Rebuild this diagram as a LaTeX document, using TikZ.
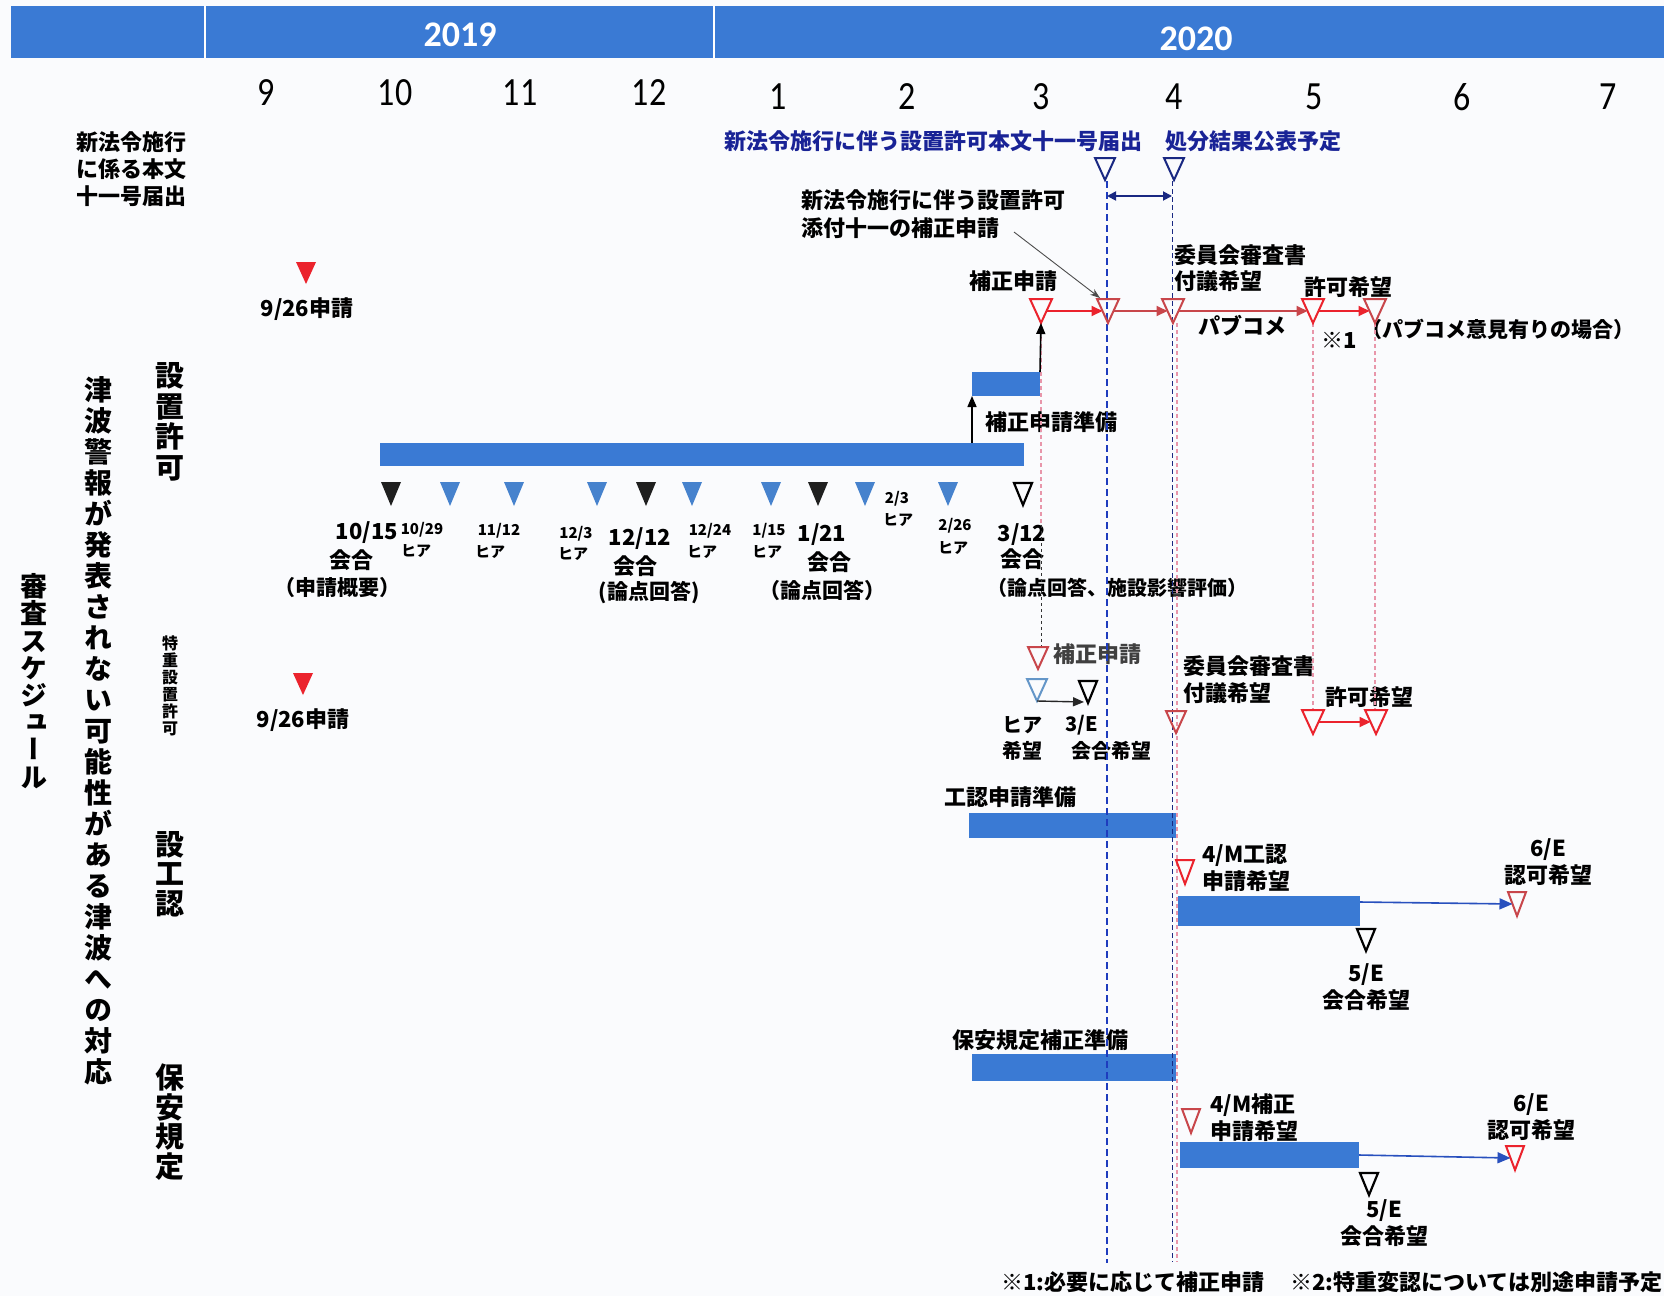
\documentclass[tikz,border=0pt]{standalone}
\usepackage{fontspec}
\usepackage{graphicx}
\setmainfont{Noto Sans CJK JP}
\newfontfamily\vfnt[RawFeature=+vert]{Noto Sans CJK JP}
\newfontfamily\calfnt{Carlito}
\usetikzlibrary{arrows.meta,calc}
\definecolor{bgc}{RGB}{250,251,253}
\definecolor{barblue}{RGB}{58,122,212}
\definecolor{navy}{RGB}{25,40,130}
\definecolor{navytxt}{RGB}{25,35,150}
\definecolor{dashblue}{RGB}{30,60,190}
\definecolor{pinkd}{RGB}{232,150,170}
\definecolor{myred}{RGB}{235,35,45}
\definecolor{dullred}{RGB}{200,70,75}
\definecolor{mkblue}{RGB}{70,130,205}
\definecolor{ltblue}{RGB}{100,150,200}
\definecolor{arrblue}{RGB}{40,80,190}
\newcommand\fs[2]{\fontsize{#1}{#2}\selectfont\bfseries}
\newcommand\tri[6][]{%
  \coordinate (#2) at (#3,#4);
  \coordinate (#2-t) at ($(#2)+(0,-#6)$);
  \coordinate (#2-b) at ($(#2)+(0,#6)$);
  \coordinate (#2-w) at ($(#2)+(-#5/2,0)$);
  \coordinate (#2-e) at ($(#2)+(#5/2,0)$);
  \path[#1] ($(#2)+(-#5,-#6)$) -- ($(#2)+(#5,-#6)$) -- (#2-b) -- cycle;
}
\tikzset{
  lbl/.style={inner sep=0pt, font=\fs{22}{27}, align=center},
  lblL/.style={inner sep=0pt, font=\fs{22}{27}, align=left, anchor=west},
  sm/.style={inner sep=0pt, font=\fs{15}{20}, align=center},
  vt/.style={inner sep=0pt, align=center},
  mon/.style={inner sep=0pt, font=\calfnt\fontsize{40}{40}\selectfont},
  yr/.style={inner sep=0pt, font=\calfnt\fs{36}{36}, text=white},
  bar/.style={fill=barblue},
  redopen/.style={draw=myred, line width=2pt, line join=miter},
  dredopen/.style={draw=dullred, line width=2pt, line join=miter},
  navyopen/.style={draw=navy, line width=2pt, line join=miter},
  blkopen/.style={draw=black, line width=2.2pt, line join=miter},
  blueopen/.style={draw=ltblue, line width=2pt, line join=miter},
  blkfill/.style={fill=black!88},
  bluefill/.style={fill=mkblue},
  redfill/.style={fill=myred},
  redarr/.style={draw=myred, line width=1.8pt, -{Triangle[length=11pt,width=10pt]}},
  dredarr/.style={draw=dullred, line width=1.8pt, -{Triangle[length=11pt,width=10pt]}},
  blkup/.style={draw=black, line width=1.6pt, -{Triangle[length=11pt,width=9pt]}},
  bluearr/.style={draw=arrblue, line width=1.6pt, -{Triangle[length=13pt,width=11pt]}},
  navyboth/.style={draw=navy, line width=1.8pt, {Triangle[length=9pt,width=9pt]}-{Triangle[length=9pt,width=9pt]}},
  callout/.style={draw=black!70, line width=0.9pt, -{Stealth[length=10pt,width=7pt]}},
  blkarr/.style={draw=black!85, line width=1.4pt, -{Triangle[length=11pt,width=9pt]}},
  bluedash/.style={draw=dashblue, line width=2pt, dash pattern=on 7pt off 4pt},
  navydash/.style={draw=navy, line width=1pt, dash pattern=on 5pt off 3pt},
  pinkdash/.style={draw=pinkd, line width=1.3pt, dash pattern=on 4pt off 3pt},
  blkdash/.style={draw=black!80, line width=1pt, dash pattern=on 3pt off 3pt},
}
\begin{document}
\begin{tikzpicture}[x=1pt,y=-1pt]
\useasboundingbox (0,0) rectangle (1664,1296);
\fill[bgc] (0,0) rectangle (1664,1296);
% ---------- header ----------
\fill[barblue] (11,6) rectangle (1664,58);
\draw[white, line width=2.5pt] (205,6) -- (205,58);
\draw[white, line width=2.5pt] (714,6) -- (714,58);
\node[yr] (y19) at (460,35) {2019};
\node[yr] (y20) at (1196,39) {2020};
\foreach \m/\x/\y in {9/266/93, 10/395/93, 11/520/93, 12/649/93, 1/778/97, 2/907/97, 3/1041/97, 4/1174/97, 5/1314/97, 6/1462/97, 7/1608/97}
  \node[mon] (m\m) at (\x,\y) {\scalebox{0.85}[1]{\m}};
% ---------- left labels ----------
\node[lbl, align=left] (ltop) at (131,169) {新法令施行\\に係る本文\\十一号届出};
\node[vt, font=\vfnt\fs{29}{30.5}] (vsk) at (170,422) {設\\置\\許\\可};
\node[vt, font=\vfnt\fs{28}{31}] (vtn) at (98,731) {津\\波\\警\\報\\が\\発\\表\\さ\\れ\\な\\い\\可\\能\\性\\が\\あ\\る\\津\\波\\へ\\の\\対\\応};
\node[vt, font=\vfnt\fs{27}{27.2}] (vss) at (34,681) {審\\査\\ス\\ケ\\ジ\\ュ\\ー\\ル};
\node[vt, font=\vfnt\fs{16}{17}] (vtj) at (170,686) {特\\重\\設\\置\\許\\可};
\node[vt, font=\vfnt\fs{29}{29.5}] (vsn) at (170,874) {設\\工\\認};
\node[vt, font=\vfnt\fs{29}{29.5}] (vhk) at (170,1122) {保\\安\\規\\定};
% ---------- bars ----------
\fill[bar] (380,443) rectangle (1024,466);
\fill[bar] (972,372) rectangle (1040,396);
\fill[bar] (969,813) rectangle (1176,838);
\fill[bar] (1178,896) rectangle (1360,926);
\fill[bar] (972,1054) rectangle (1176,1081);
\fill[bar] (1180,1142) rectangle (1359,1168);
\coordinate (b2top) at (1040,372);
\coordinate (b1top) at (972,443);
\coordinate (b2bot) at (972,396);
\coordinate (b4r) at (1360,902);
\coordinate (b6r) at (1359,1155);
% ---------- texts: top row ----------
\node[lblL, text=navytxt] (tb1) at (724,141) {新法令施行に伴う設置許可本文十一号届出};
\node[lblL, text=navytxt] (tb2) at (1165,141) {処分結果公表予定};
% ---------- texts: 設置許可 ----------
\node[lbl] (t926a) at (307,309) {9/26申請};
\node[lbl] (thos1) at (1013,281) {補正申請};
\node[lblL, font=\fs{22}{28}] (tnew) at (801,214) {新法令施行に伴う設置許可\\添付十一の補正申請};
\node[lblL, font=\fs{22}{26}] (tiin1) at (1174,268) {委員会審査書\\付議希望};
\node[lbl] (tkyo1) at (1348,287) {許可希望};
\node[lbl] (tpub) at (1242,326) {パブコメ};
\node[lbl] (tk1) at (1339,340) {※1};
\node[lbl, font=\fs{21}{26}] (tpubo) at (1498,329) {（パブコメ意見有りの場合）};
\node[lblL] (tjunbi) at (985,422) {補正申請準備};
% marker labels
\node[lbl] (d1015) at (367,533) {10/15};
\node[lbl] (k1015) at (351,560) {会合};
\node[lbl, font=\fs{21}{26}] (c1015) at (337,588) {（申請概要）};
\node[sm] (d1029) at (422,530) {10/29};
\node[sm] (h1029) at (416,551) {ヒア};
\node[sm] (d1112) at (499,531) {11/12};
\node[sm] (h1112) at (490,552) {ヒア};
\node[sm] (d123) at (576,534) {12/3};
\node[sm] (h123) at (573,554) {ヒア};
\node[lbl] (d1212) at (640,539) {12/12};
\node[lbl] (k1212) at (635,566) {会合};
\node[lbl, font=\fs{21}{26}] (c1212) at (649,593) {(論点回答)};
\node[sm] (d1224) at (710,531) {12/24};
\node[sm] (h1224) at (702,552) {ヒア};
\node[sm] (d115) at (769,531) {1/15};
\node[sm] (h115) at (767,552) {ヒア};
\node[lbl] (d121) at (822,535) {1/21};
\node[lbl] (k121) at (829,562) {会合};
\node[lbl, font=\fs{21}{26}] (c121) at (822,590) {（論点回答）};
\node[sm] (d23) at (897,499) {2/3};
\node[sm] (h23) at (898,520) {ヒア};
\node[sm] (d226) at (955,526) {2/26};
\node[sm] (h226) at (953,548) {ヒア};
\node[lbl] (d312) at (1022,535) {3/12};
\node[lbl] (k312) at (1022,559) {会合};
\node[lbl, font=\fs{20}{26}] (c312) at (1117,588) {（論点回答、施設影響評価）};
% ---------- texts: 特重 ----------
\node[lbl] (t926b) at (303,720) {9/26申請};
\node[lblL, text=black!75] (thos2) at (1053,654) {補正申請};
\node[lbl, font=\fs{20}{26}] (thia) at (1022,738) {ヒア\\希望};
\node[lbl, font=\fs{20}{26}] (t3e) at (1082,725) {3/E};
\node[lbl, font=\fs{20}{26}] (t3ek) at (1111,751) {会合希望};
\node[lblL, font=\fs{22}{27}] (tiin2) at (1183,680) {委員会審査書\\付議希望};
\node[lbl] (tkyo2) at (1369,697) {許可希望};
% ---------- texts: 設工認 ----------
\node[lbl] (tkojun) at (1010,797) {工認申請準備};
\node[lblL] (t4m1) at (1202,868) {4/M工認\\申請希望};
\node[lbl] (t6e1) at (1548,862) {6/E\\認可希望};
\node[lbl] (t5e1) at (1366,987) {5/E\\会合希望};
% ---------- texts: 保安規定 ----------
\node[lbl] (thojun) at (1040,1040) {保安規定補正準備};
\node[lblL] (t4m2) at (1210,1118) {4/M補正\\申請希望};
\node[lbl] (t6e2) at (1531,1117) {6/E\\認可希望};
\node[lbl] (t5e2) at (1384,1223) {5/E\\会合希望};
% footnote
\node[lblL] (fn) at (1001,1282) {※1:必要に応じて補正申請\hspace{26pt}※2:特重変認については別途申請予定};
% ---------- dashed guide lines ----------
\coordinate (gA1) at (1107,181); \coordinate (gA2) at (1107,1263);
\coordinate (gB1) at (1172,181); \coordinate (gB2) at (1172,1262);
\coordinate (gC1) at (1177,323); \coordinate (gC2) at (1177,1262);
\coordinate (gD1) at (1041,323); \coordinate (gD2) at (1041,525); \coordinate (gD3) at (1041,646);
\coordinate (gE1) at (1313,323); \coordinate (gE2) at (1313,710);
\coordinate (gF1) at (1375,323); \coordinate (gF2) at (1375,710);
\draw[pinkdash] (gC1) -- (gC2);
\draw[pinkdash] (gD1) -- (gD2);
\draw[blkdash] (gD2) -- (gD3);
\draw[pinkdash] (gE1) -- (gE2);
\draw[pinkdash] (gF1) -- (gF2);
\draw[bluedash] (gA1) -- (gA2);
\draw[navydash] (gB1) -- (gB2);
% ---------- top row triangles ----------
\tri[navyopen]{n1}{1105}{169}{10}{11}
\tri[navyopen]{n2}{1174}{169}{10}{11}
\coordinate (da1) at (1107,196); \coordinate (da2) at (1172,196);
\draw[navyboth] (da1) -- (da2);
% ---------- 設置許可 triangles ----------
\tri[redfill]{r926a}{306}{273}{10}{11}
\tri[redopen]{s1}{1041}{311}{11}{12}
\tri[dredopen]{s2}{1108}{311}{11}{12}
\tri[dredopen]{s3}{1173}{311}{11}{12}
\tri[redopen]{s4}{1313}{311}{11}{12}
\tri[dredopen]{s5}{1375}{311}{11}{12}
\draw[redarr] (s1-e) -- (s2-w);
\draw[dredarr] (s2-e) -- (s3-w);
\draw[dredarr] (s3-e) -- (s4-w);
\draw[redarr] (s4-e) -- (s5-w);
\coordinate (cst) at (1014,232);
\coordinate (cend) at (1100,298);
\draw[callout] (cst) -- (cend);
\draw[blkup] (b2top) -- (s1-b);
\draw[blkup] (b1top) -- (b2bot);
% marker row
\tri[blkfill]{k1}{391}{494}{10}{12}
\tri[bluefill]{h1}{450}{494}{10}{12}
\tri[bluefill]{h2}{514}{494}{10}{12}
\tri[bluefill]{h3}{597}{494}{10}{12}
\tri[blkfill]{k2}{646}{494}{10}{12}
\tri[bluefill]{h4}{692}{494}{10}{12}
\tri[bluefill]{h5}{771}{494}{10}{12}
\tri[blkfill]{k3}{818}{494}{10}{12}
\tri[bluefill]{h6}{865}{494}{10}{12}
\tri[bluefill]{h7}{948}{494}{10}{12}
\tri[blkopen]{k4}{1023}{494}{9}{11}
% ---------- 特重 triangles ----------
\tri[redfill]{r926b}{303}{684}{10}{11}
\tri[dredopen]{u1}{1038}{658}{10}{11}
\tri[blueopen]{u2}{1037}{690}{10}{11}
\tri[blkopen]{u3}{1088}{692}{9}{11}
\coordinate (u3in) at (1084,702);
\draw[blkarr] (u2-b) -- (u3in);
\tri[dredopen]{u4}{1176}{722}{10}{11}
\tri[redopen]{u5}{1313}{722}{11}{12}
\tri[redopen]{u6}{1376}{722}{11}{12}
\draw[redarr] (u5-e) -- (u6-w);
% ---------- 設工認 triangles ----------
\tri[redopen]{w1}{1185}{872}{9}{12}
\tri[dredopen]{w2}{1517}{904}{9}{12}
\tri[blkopen]{w3}{1366}{940}{9}{11}
\draw[bluearr] (b4r) -- (w2-w);
% ---------- 保安規定 triangles ----------
\tri[dredopen]{z1}{1191}{1121}{9}{12}
\tri[redopen]{z2}{1515}{1158}{9}{12}
\tri[blkopen]{z3}{1369}{1184}{9}{11}
\draw[bluearr] (b6r) -- (z2-w);
\end{tikzpicture}
\end{document}
